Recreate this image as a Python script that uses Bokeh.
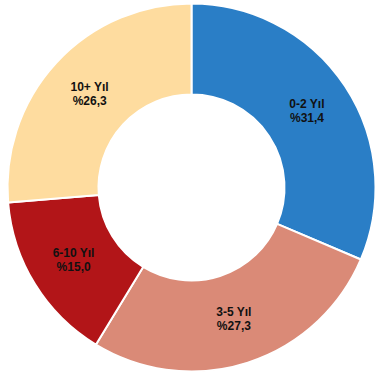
import numpy as np
from bokeh.plotting import figure
from bokeh.models import Range1d, ColumnDataSource
from bokeh.core.properties import value
from bokeh.embed import file_html
from bokeh.resources import INLINE

categories = ["0-2 Yıl", "3-5 Yıl", "6-10 Yıl", "10+ Yıl"]
shares = [31.4, 27.3, 15.0, 26.3]
share_labels = ["%31,4", "%27,3", "%15,0", "%26,3"]
colors = ["#2A7EC6", "#DA8A77", "#B21518", "#FEDC9F"]

vals = np.array(shares)
frac = vals / vals.sum()
cum_end = np.cumsum(frac)
cum_start = cum_end - frac
start = np.pi / 2 - cum_end * 2 * np.pi
end = np.pi / 2 - cum_start * 2 * np.pi
mid = (start + end) / 2

R_OUT, R_IN = 184, 93
r_lab = (R_OUT + R_IN) / 2

src = ColumnDataSource(dict(
    start=start, end=end, color=colors,
    lx=r_lab * np.cos(mid), ly=r_lab * np.sin(mid),
    cat=categories, lab=share_labels,
))

p = figure(width=381, height=376, output_backend="svg", toolbar_location=None,
           x_range=Range1d(-191, 190), y_range=Range1d(-189, 187),
           min_border=0, outline_line_color=None, background_fill_color="white")
p.axis.visible = False
p.grid.visible = False

p.annular_wedge(x=0, y=0, inner_radius=R_IN, outer_radius=R_OUT,
                start_angle="start", end_angle="end", fill_color="color",
                line_color="white", line_width=2, source=src)

common = dict(text_font=value("Liberation Sans"), text_font_size="12px",
              text_font_style="bold", text_color="#111111",
              text_align="center", text_baseline="middle", source=src)
p.text(x="lx", y="ly", text="cat", y_offset=-7, **common)
p.text(x="lx", y="ly", text="lab", y_offset=7, **common)

open("out.html", "w").write(file_html(p, INLINE))
